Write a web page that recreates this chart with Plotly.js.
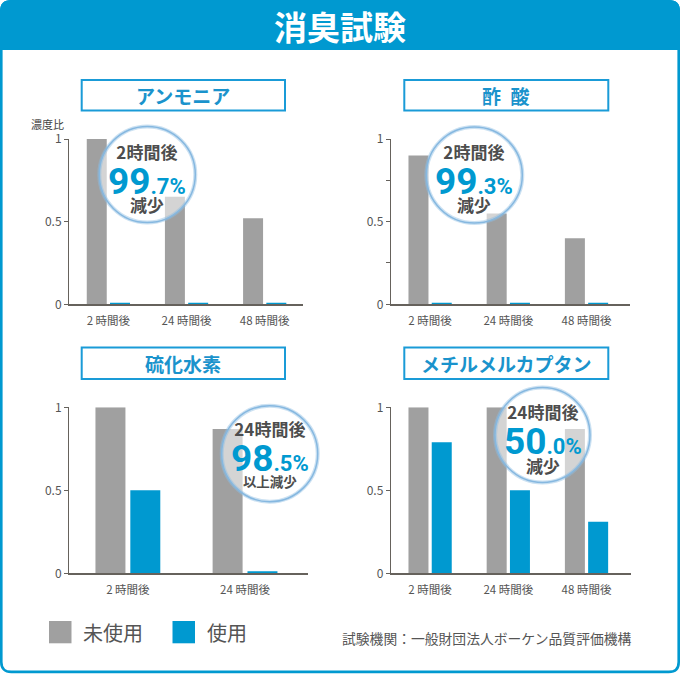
<!DOCTYPE html>
<html><head><meta charset="utf-8">
<script src="https://cdn.plot.ly/plotly-3.0.1.min.js"></script>
<style>html,body{margin:0;padding:0;background:#fff;} #chart{width:680px;height:674px;}</style>
</head><body><div id="chart"></div>
<script>
// ---- data ----
const categories3 = ['2 時間後', '24 時間後', '48 時間後'];
const categories2 = ['2 時間後', '24 時間後'];
const seriesNames = ['未使用', '使用'];
const ammoniaUnused = [1.00, 0.65, 0.52];
const ammoniaUsed = [0.01, 0.01, 0.01];
const aceticUnused = [0.90, 0.55, 0.40];
const aceticUsed = [0.01, 0.01, 0.01];
const h2sUnused = [1.00, 0.87];
const h2sUsed = [0.50, 0.013];
const mercaptanUnused = [1.00, 1.00, 0.87];
const mercaptanUsed = [0.79, 0.50, 0.31];
const panelTitles = ['アンモニア', '酢\u2002酸', '硫化水素', 'メチルメルカプタン'];
const badgeHeads = ['2時間後', '2時間後', '24時間後', '24時間後'];
const badgeInts = ['99', '99', '98', '50'];
const badgeDecs = ['.7%', '.3%', '.5%', '.0%'];
const badgeTails = ['減少', '減少', '以上減少', '減少'];
const mainTitle = '消臭試験';
const yAxisLabel = '濃度比';
const footnote = '試験機関：一般財団法人ボーケン品質評価機構';

// ---- styling ----
const W = 680, H = 674;
const BLUE = '#0099d0', GRAY = '#a0a0a0', AXIS = '#66625c', TXT = '#555555';
const JP = '"Noto Sans CJK JP", "Noto Sans", sans-serif';
const px = x => x / W;
const py = y => 1 - y / H;
const P = (x, y) => px(x) + ',' + py(y);

function roundRectPath(x0, y0, x1, y1, r, bottomRound) {
  let d = 'M ' + P(x0, y0 + r) + ' Q ' + P(x0, y0) + ' ' + P(x0 + r, y0) +
    ' L ' + P(x1 - r, y0) + ' Q ' + P(x1, y0) + ' ' + P(x1, y0 + r);
  if (bottomRound) {
    d += ' L ' + P(x1, y1 - r) + ' Q ' + P(x1, y1) + ' ' + P(x1 - r, y1) +
      ' L ' + P(x0 + r, y1) + ' Q ' + P(x0, y1) + ' ' + P(x0, y1 - r) + ' Z';
  } else {
    d += ' L ' + P(x1, y1) + ' L ' + P(x0, y1) + ' Z';
  }
  return d;
}

// panel geometry (pixels)
const panels = [
  {xa: 'x', ya: 'y', x0: 69.3, x1: 303, y0: 139, y1: 304.3, r1: 2.49, cats: categories3, a: ammoniaUnused, b: ammoniaUsed,
   box: [81.7, 80, 285, 110.5], circ: [147.3, 174.5, 48], top: 137, shift2: 13, shift3: 9.3},
  {xa: 'x2', ya: 'y2', x0: 391, x1: 630, y0: 139, y1: 304.3, r1: 2.556, cats: categories3, a: aceticUnused, b: aceticUsed,
   box: [404.3, 80, 608.3, 110.5], circ: [474.3, 175, 48], top: 137, shift2: 13, shift3: 9.3},
  {xa: 'x3', ya: 'y3', x0: 69.3, x1: 308.3, y0: 407.3, y1: 573.3, r1: 1.54, cats: categories2, a: h2sUnused, b: h2sUsed,
   box: [81.7, 347.5, 285, 379], circ: [269.7, 453.7, 48], top: 414.5, shift2: 13.2, shift3: 6.5},
  {xa: 'x4', ya: 'y4', x0: 391, x1: 630.7, y0: 407.3, y1: 573.3, r1: 2.565, cats: categories3, a: mercaptanUnused, b: mercaptanUsed,
   box: [404.3, 347.5, 608.3, 379], circ: [542.5, 435, 47.5], top: 396.5, shift2: 12.9, shift3: 9.8}
];

const traces = [];
const layout = {
  width: W, height: H, margin: {l: 0, r: 0, t: 0, b: 0},
  paper_bgcolor: '#ffffff', plot_bgcolor: 'rgba(0,0,0,0)',
  showlegend: false, barmode: 'group', bargap: 0.405, bargroupgap: 0.14,
  font: {family: JP, color: TXT},
  shapes: [], annotations: []
};

panels.forEach((p, i) => {
  const n = i === 0 ? '' : String(i + 1);
  traces.push({type: 'bar', name: seriesNames[0], x: p.cats, y: p.a, xaxis: p.xa, yaxis: p.ya,
    marker: {color: GRAY, line: {width: 0}}, hoverinfo: 'skip'});
  traces.push({type: 'bar', name: seriesNames[1], x: p.cats, y: p.b, xaxis: p.xa, yaxis: p.ya,
    marker: {color: BLUE, line: {width: 0}}, hoverinfo: 'skip'});
  const minor = i === 1;
  layout['xaxis' + n] = {
    domain: [px(p.x0), px(p.x1)], range: [-0.5, p.r1], anchor: p.ya, type: 'category',
    showline: true, linecolor: AXIS, linewidth: 1.6, ticks: '', showgrid: false, zeroline: false,
    tickfont: {size: 11.5, color: TXT, family: JP}, ticklabelstandoff: 5, fixedrange: true
  };
  layout['yaxis' + n] = {
    domain: [py(p.y1), py(p.y0)], range: [0, 1], anchor: p.xa,
    showline: true, linecolor: AXIS, linewidth: 1.3, showgrid: false, zeroline: false,
    ticks: 'outside', ticklen: 4, tickwidth: 1, tickcolor: AXIS,
    tickvals: minor ? [0, 0.25, 0.5, 0.75, 1] : [0, 0.5, 1],
    ticktext: minor ? ['0', '', '0.5', '', '1'] : ['0', '0.5', '1'],
    tickfont: {size: 12, color: TXT, family: JP}, fixedrange: true
  };
  // title box
  const [bx0, by0, bx1, by1] = p.box;
  layout.shapes.push({type: 'rect', xref: 'paper', yref: 'paper', x0: px(bx0), x1: px(bx1), y0: py(by1), y1: py(by0),
    line: {color: '#1a9bd7', width: 2}, fillcolor: 'rgba(0,0,0,0)'});
  layout.annotations.push({xref: 'paper', yref: 'paper', x: px((bx0 + bx1) / 2), y: py((by0 + by1) / 2),
    xanchor: 'center', yanchor: 'middle', showarrow: false, text: '<b>' + panelTitles[i] + '</b>',
    font: {size: 19, color: '#1a93cc', family: JP}});
  // badge circle
  const [cx, cy, r] = p.circ;
  layout.shapes.push({type: 'circle', xref: 'paper', yref: 'paper', layer: 'above',
    x0: px(cx - r), x1: px(cx + r), y0: py(cy + r), y1: py(cy - r),
    fillcolor: 'rgba(255,255,255,0.55)', line: {color: 'rgba(140,188,226,0.45)', width: 4}});
  layout.shapes.push({type: 'circle', xref: 'paper', yref: 'paper', layer: 'above',
    x0: px(cx - r), x1: px(cx + r), y0: py(cy + r), y1: py(cy - r),
    fillcolor: 'rgba(0,0,0,0)', line: {color: '#86b8e0', width: 1.5}});
  // badge text: one text block of three lines
  const bigStyle = 'font-family:Roboto;color:' + BLUE + ';baseline-shift:-' + p.shift2 + 'px;';
  const tailSize = i === 2 ? 'font-size:13.5px;' : '';
  const badgeText = badgeHeads[i] + '<br>' +
    '<span style="' + bigStyle + 'font-size:37px">' + badgeInts[i] + '</span>' +
    '<span style="' + bigStyle + 'font-size:22px">' + badgeDecs[i] + '</span><br>' +
    '<span style="' + tailSize + 'baseline-shift:-' + p.shift3 + 'px">' + badgeTails[i] + '</span>';
  layout.annotations.push({xref: 'paper', yref: 'paper', x: px(cx), y: py(p.top), xanchor: 'center', yanchor: 'top',
    align: 'center', showarrow: false, text: badgeText,
    font: {size: 17, color: '#4d4d4d', family: JP, weight: 'bold'}});
});

// frame + header
layout.shapes.unshift({type: 'path', xref: 'paper', yref: 'paper', layer: 'below',
  path: roundRectPath(1.3, 1.3, 678.7, 671.9, 10, true), line: {color: BLUE, width: 2.6}, fillcolor: 'rgba(0,0,0,0)'});
layout.shapes.push({type: 'path', xref: 'paper', yref: 'paper', layer: 'above',
  path: roundRectPath(0, 0, 680, 50, 11, false), line: {width: 0}, fillcolor: BLUE});
layout.annotations.push({xref: 'paper', yref: 'paper', x: px(340), y: py(26), xanchor: 'center', yanchor: 'middle',
  showarrow: false, text: mainTitle, font: {size: 33, color: '#ffffff', family: JP, weight: 'bold'}});
// y label
layout.annotations.push({xref: 'paper', yref: 'paper', x: px(66), y: py(124.5), xanchor: 'right', yanchor: 'middle',
  showarrow: false, text: yAxisLabel, font: {size: 11, color: '#444444', family: JP}});
// legend (custom)
const legendItems = [[49, GRAY, 81], [172.5, BLUE, 205]];
legendItems.forEach((it, k) => {
  layout.shapes.push({type: 'rect', xref: 'paper', yref: 'paper', x0: px(it[0]), x1: px(it[0] + 22.5), y0: py(643.3), y1: py(621),
    fillcolor: it[1], line: {width: 0}});
  layout.annotations.push({xref: 'paper', yref: 'paper', x: px(it[2]), y: py(632), xanchor: 'left', yanchor: 'middle',
    showarrow: false, text: seriesNames[k], font: {size: 20, color: TXT, family: JP}});
});
layout.annotations.push({xref: 'paper', yref: 'paper', x: px(340), y: py(638), xanchor: 'left', yanchor: 'middle',
  showarrow: false, text: footnote, font: {size: 13.8, color: TXT, family: JP}});

Plotly.newPlot('chart', traces, layout, {staticPlot: true, displayModeBar: false});
</script></body></html>
